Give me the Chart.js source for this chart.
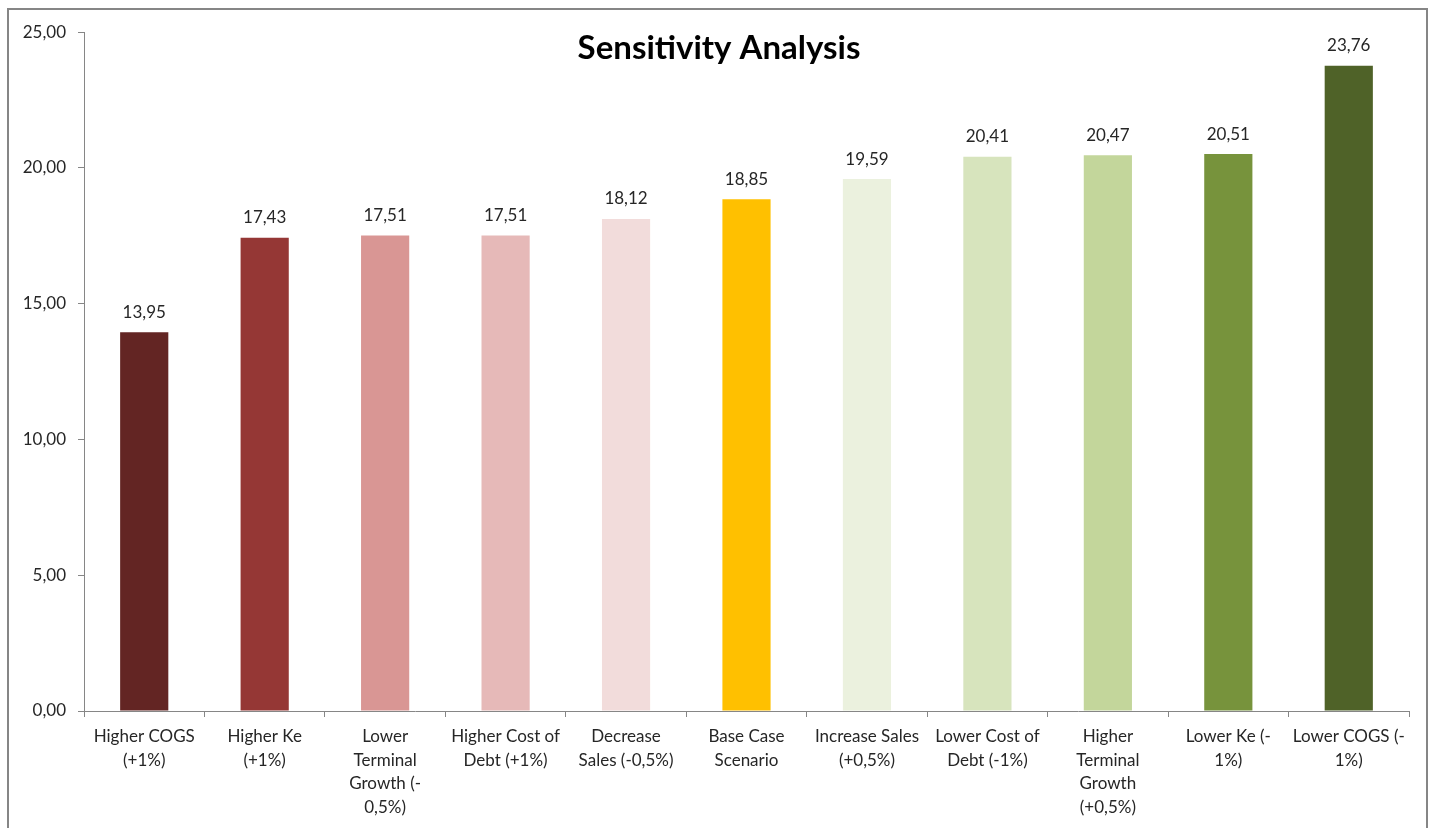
<!DOCTYPE html>
<html>
<head>
<meta charset="utf-8">
<script src="https://cdn.jsdelivr.net/npm/chart.js@4"></script>
<style>
    html, body { margin: 0; padding: 0; background: #fff; overflow: hidden; }
    #frame {
        position: absolute;
        left: 7px;
        top: 8px;
        width: 1417px;
        height: 830px;
        border: 2px solid #868686;
        border-bottom: none;
    }
    #chart { display: block; }
</style>
</head>
<body>
<div id="frame">
    <canvas id="chart" width="1417" height="818"></canvas>
</div>
<script>
const categories = [
    ["Higher COGS", "(+1%)"],
    ["Higher Ke", "(+1%)"],
    ["Lower", "Terminal", "Growth (-", "0,5%)"],
    ["Higher Cost of", "Debt (+1%)"],
    ["Decrease", "Sales (-0,5%)"],
    ["Base Case", "Scenario"],
    ["Increase Sales", "(+0,5%)"],
    ["Lower Cost of", "Debt (-1%)"],
    ["Higher", "Terminal", "Growth", "(+0,5%)"],
    ["Lower Ke (-", "1%)"],
    ["Lower COGS (-", "1%)"],
];
const values = [13.95, 17.43, 17.51, 17.51, 18.12, 18.85, 19.59, 20.41, 20.47, 20.51, 23.76];
const barColors = [
    "#632523", "#953735", "#D99694", "#E6B9B8", "#F2DCDB", "#FFC000",
    "#EBF1DE", "#D7E4BD", "#C3D69B", "#77933C", "#4F6228",
];
const chartTitle = "Sensitivity Analysis";

const FONT = "Lato, 'Open Sans', sans-serif";
const fmt = (v) => v.toFixed(2).replace(".", ",");

// PLUGIN: TITLE DRAWN OVER THE PLOT AREA ---
const overlayTitle = {
    id: "overlayTitle",
    afterDraw: (chart) => {
        const { ctx } = chart;
        ctx.save();
        ctx.font = "bold 33px " + FONT;
        ctx.fillStyle = "#000";
        ctx.textAlign = "center";
        ctx.textBaseline = "middle";
        ctx.fillText(chartTitle, 710, 38);
        ctx.restore();
    },
};

// PLUGIN: VALUE LABELS ABOVE BARS ---
const valueLabels = {
    id: "valueLabels",
    afterDatasetsDraw: (chart) => {
        const { ctx } = chart;
        const meta = chart.getDatasetMeta(0);
        ctx.save();
        ctx.font = "17px " + FONT;
        ctx.fillStyle = "#262626";
        ctx.textAlign = "center";
        ctx.textBaseline = "middle";
        meta.data.forEach((bar, i) => {
            ctx.fillText(fmt(values[i]), bar.x, bar.y - 20);
        });
        ctx.restore();
    },
};

const ctx = document.getElementById("chart").getContext("2d");
new Chart(ctx, {
    type: "bar",
    plugins: [overlayTitle, valueLabels],
    data: {
        labels: categories,
        datasets: [
            {
                data: values,
                backgroundColor: barColors,
                borderWidth: 0,
                barPercentage: 0.4,
                categoryPercentage: 1,
            },
        ],
    },
    options: {
        responsive: false,
        animation: false,
        layout: {
            padding: { top: 21, right: 17, bottom: 0, left: 0 },
        },
        plugins: {
            legend: { display: false },
            tooltip: { enabled: false },
            title: { display: false },
        },
        scales: {
            x: {
                grid: {
                    drawOnChartArea: false,
                    tickLength: 6,
                    color: "#868686",
                },
                border: { color: "#868686", width: 1 },
                ticks: {
                    color: "#262626",
                    font: { family: FONT, size: 17, lineHeight: 1.38 },
                    padding: 8,
                    maxRotation: 0,
                    autoSkip: false,
                },
                afterFit: (scale) => { scale.height = 117; },
            },
            y: {
                min: 0,
                max: 25,
                grid: {
                    drawOnChartArea: false,
                    tickLength: 6,
                    color: "#868686",
                },
                border: { color: "#868686", width: 1 },
                ticks: {
                    stepSize: 5,
                    color: "#262626",
                    font: { family: FONT, size: 17 },
                    padding: 12,
                    callback: (v) => fmt(v),
                },
                afterFit: (scale) => { scale.width = 75; },
            },
        },
    },
});
</script>
</body>
</html>
